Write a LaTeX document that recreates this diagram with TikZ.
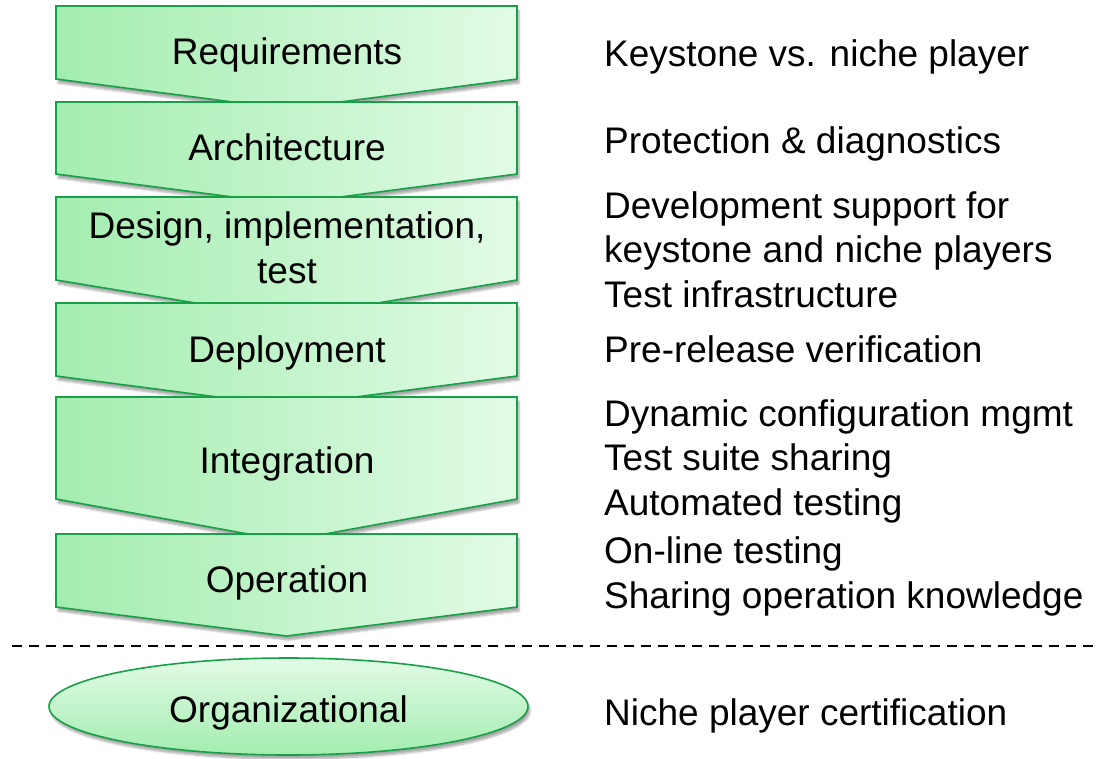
\documentclass[tikz,border=0pt]{standalone}
\usepackage{fontspec}
\setmainfont{Liberation Sans}
\usetikzlibrary{shadows.blur}
\definecolor{gdark}{RGB}{163,237,175}
\definecolor{glight}{RGB}{226,251,230}
\definecolor{gborder}{RGB}{24,160,72}
\tikzset{
  chev/.style={draw=gborder, line width=1.6pt, left color=gdark, right color=glight,
    blur shadow={shadow xshift=2pt, shadow yshift=-4pt, shadow blur steps=6, shadow opacity=35}},
  ovalshape/.style={draw=gborder, line width=1.6pt, top color=glight, bottom color=gdark,
    blur shadow={shadow xshift=2pt, shadow yshift=-4pt, shadow blur steps=6, shadow opacity=35}},
  lbl/.style={inner sep=0pt, font=\fontsize{37}{44.5}\selectfont, align=center, anchor=base},
  rtxt/.style={inner sep=0pt, font=\fontsize{37}{44.5}\selectfont, align=left, anchor=base west},
  sep/.style={line width=2pt, dash pattern=on 10pt off 7pt}
}
\newcommand{\chevron}[4]{% top, side bottom, tip, (unused)
  \path[chev] (56,#1) -- (517,#1) -- (517,#2) -- (286.5,#3) -- (56,#2) -- cycle;}
\begin{document}
\begin{tikzpicture}[x=1pt,y=-1pt]
\useasboundingbox (0,0) rectangle (1105,758);
\chevron{6}{79}{109}{}
\chevron{102}{174}{204}{}
\chevron{197}{280}{318}{}
\chevron{303}{376}{406}{}
\chevron{397}{499}{541}{}
\chevron{534}{607}{636}{}
\node (req) [lbl] at (287,64) {Requirements};
\node (arch) [lbl] at (287,160) {Architecture};
\node (des) [lbl] at (287,283) {Design, implementation,\\test};
\node (dep) [lbl] at (287,362) {Deployment};
\node (int) [lbl] at (287,473) {Integration};
\node (op) [lbl] at (287,592) {Operation};
\coordinate (dl) at (12,646);
\coordinate (dr) at (1100,646);
\draw[sep] (dl) -- (dr);
\path[ovalshape] (288.5,706.5) ellipse [x radius=239.5, y radius=48.5];
\node (org) [lbl] at (288.5,722) {Organizational};
\node (t1) [rtxt] at (604,66) {Keystone vs. niche player};
\node (t2) [rtxt] at (604,153) {Protection \& diagnostics};
\node (t3) [rtxt] at (604,307) {Development support for\\keystone and niche players\\Test infrastructure};
\node (t4) [rtxt] at (604,362) {Pre-release verification};
\node (t5) [rtxt] at (604,515) {Dynamic configuration mgmt\\Test suite sharing\\Automated testing};
\node (t6) [rtxt] at (604,608) {On-line testing\\Sharing operation knowledge};
\node (t7) [rtxt] at (604,725) {Niche player certification};
\end{tikzpicture}
\end{document}
